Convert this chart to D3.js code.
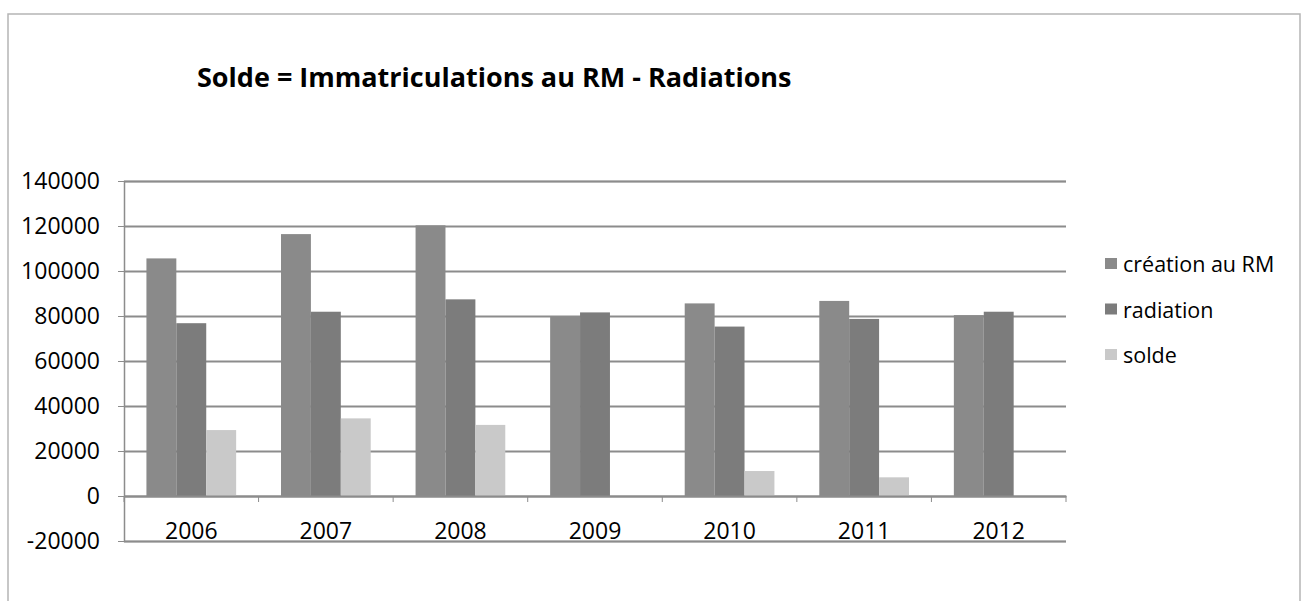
<!DOCTYPE html>
<html>
<head>
<meta charset="utf-8">
<script src="https://cdn.jsdelivr.net/npm/d3@7"></script>
<style>
  body { margin: 0; background: #fff; }
  text { font-family: "Open Sans", sans-serif; fill: #000; }
</style>
</head>
<body>
<div id="chart"></div>
<script>
// values
const years = ["2006", "2007", "2008", "2009", "2010", "2011", "2012"];
const series = ["création au RM", "radiation", "solde"];
const creation = [105600, 116400, 120300, 79700, 85600, 86700, 80400];
const radiation = [76800, 81900, 87400, 81600, 75300, 78700, 81900];
const solde = [29300, 34500, 31600, 0, 11100, 8300, 0];
const yTicks = [-20000, 0, 20000, 40000, 60000, 80000, 100000, 120000, 140000];

const width = 1308;
const height = 601;
const colors = ["#8a8a8a", "#7c7c7c", "#c9c9c9"];

const svg = d3.select("#chart")
              .append("svg")
              .attr("width", width)
              .attr("height", height);

// frame of the scanned chart
svg.append("rect").attr("x", 8).attr("y", 14).attr("width", 1292).attr("height", 590)
   .attr("fill", "none").attr("stroke", "#b5b5b5").attr("stroke-width", 1.5);

svg.append("text")
   .attr("x", 197)
   .attr("y", 87)
   .attr("font-size", "27px")
   .attr("font-weight", "bold")
   .text("Solde = Immatriculations au RM - Radiations");

const left = 124, right = 1066;
const yScale = d3.scaleLinear().domain([-20000, 140000]).range([541, 181]);
const xScale = d3.scaleBand().domain(years).range([left, right]);
// Excel style gap: 150% of a bar width
const barW = xScale.bandwidth() / 4.5;
const xInner = d3.scaleBand().domain(series)
                 .range([xScale.bandwidth() / 2 - 1.5 * barW, xScale.bandwidth() / 2 + 1.5 * barW]);

// gridlines and value labels
const yAxis = d3.axisLeft(yScale).tickValues(yTicks).tickSize(-(right - left)).tickPadding(24)
                .tickFormat((d) => String(d));
const gy = svg.append("g").attr("transform", "translate(" + left + ",0)").call(yAxis);
gy.select(".domain").attr("stroke", "#8c8c8c").attr("stroke-width", 1.5);
gy.selectAll(".tick line").attr("stroke", "#8c8c8c").attr("stroke-width", 1.8);
gy.selectAll(".tick text").attr("font-size", "23px").attr("font-family", "Open Sans").attr("fill", "#000");
gy.selectAll(".tick").append("line").attr("x1", -6).attr("x2", 0).attr("stroke", "#8c8c8c");

// bars
const rows = years.map((y, i) => ({ year: y, values: [creation[i], radiation[i], solde[i]] }));
const groups = svg.selectAll("g.year")
                  .data(rows)
                  .enter()
                  .append("g")
                  .attr("class", "year")
                  .attr("transform", (d) => "translate(" + xScale(d.year) + ",0)");
groups.selectAll("rect")
      .data((d) => d.values.map((v, k) => ({ key: series[k], value: v, k: k })))
      .enter()
      .append("rect")
      .attr("x", (d) => xInner(d.key))
      .attr("width", xInner.bandwidth())
      .attr("y", (d) => yScale(Math.max(0, d.value)))
      .attr("height", (d) => Math.abs(yScale(d.value) - yScale(0)))
      .attr("fill", (d) => colors[d.k]);

// category axis on the zero line
const xAxis = d3.axisBottom(xScale).tickSize(0).tickPadding(27);
const gx = svg.append("g").attr("transform", "translate(0," + yScale(0) + ")").call(xAxis);
gx.select(".domain").attr("stroke", "#8c8c8c").attr("stroke-width", 1.8);
gx.selectAll(".tick text").attr("font-size", "23px").attr("font-family", "Open Sans").attr("fill", "#000");
svg.append("g").selectAll("line")
   .data(years.concat(["end"]))
   .enter()
   .append("line")
   .attr("x1", (d, i) => left + i * xScale.step())
   .attr("x2", (d, i) => left + i * xScale.step())
   .attr("y1", yScale(0))
   .attr("y2", yScale(0) + 6)
   .attr("stroke", "#8c8c8c");

// legend
const legend = svg.append("g").attr("transform", "translate(1105,264)");
series.forEach((s, i) => {
    legend.append("rect").attr("x", 0).attr("y", i * 45.5 - 6).attr("width", 12).attr("height", 11)
          .attr("fill", colors[i]);
    legend.append("text").attr("x", 18).attr("y", i * 45.5 + 8).attr("font-size", "21.5px").text(s);
});
</script>
</body>
</html>
